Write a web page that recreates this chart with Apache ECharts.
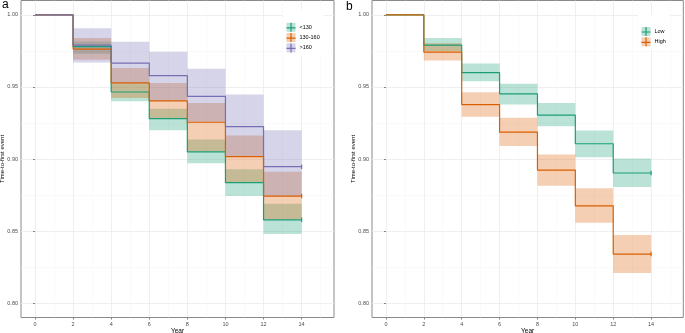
<!DOCTYPE html>
<html>
<head>
<meta charset="utf-8">
<script src="https://cdn.jsdelivr.net/npm/echarts@6/dist/echarts.min.js"></script>
<style>
  html, body { margin: 0; padding: 0; background: #fff; }
  #chart { width: 685px; height: 333px; }
</style>
</head>
<body>
<div id="chart"></div>
<script>
// step times (years)
const years = [0, 2, 4, 6, 8, 10, 12, 14];
const xTicks = [0, 2, 4, 6, 8, 10, 12, 14];
const xMinor = [1, 3, 5, 7, 9, 11, 13, 15];
const yTicks = [0.80, 0.85, 0.90, 0.95, 1.00];
const yMinor = [0.825, 0.875, 0.925, 0.975];

// panel a
const groupsA = ['<130', '130-160', '>160'];
const survLt130 = [1, 0.978, 0.9465, 0.928, 0.905, 0.8836, 0.8578];
const upLt130 = [0.9815, 0.9528, 0.9348, 0.9135, 0.8928, 0.869];
const loLt130 = [0.973, 0.940, 0.920, 0.897, 0.8744, 0.848];
const surv130to160 = [1, 0.9763, 0.9528, 0.9403, 0.9255, 0.9016, 0.8743];
const up130to160 = [0.9839, 0.9631, 0.9528, 0.9389, 0.9163, 0.8912];
const lo130to160 = [0.9689, 0.9424, 0.928, 0.9052, 0.8836, 0.8578];
const survGt160 = [1, 0.979, 0.9666, 0.9578, 0.9435, 0.9225, 0.8947];
const upGt160 = [0.9908, 0.9813, 0.9744, 0.9627, 0.9447, 0.920];
const loGt160 = [0.967, 0.9528, 0.9405, 0.9258, 0.9016, 0.8743];

// panel b
const groupsB = ['Low', 'High'];
const survLow = [1, 0.979, 0.9599, 0.9452, 0.9304, 0.9106, 0.8903];
const upLow = [0.984, 0.9662, 0.9523, 0.9389, 0.9198, 0.9003];
const loLow = [0.975, 0.954, 0.9378, 0.9228, 0.9013, 0.8806];
const survHigh = [1, 0.9742, 0.9378, 0.9186, 0.8923, 0.8675, 0.834];
const upHigh = [0.9804, 0.9463, 0.9286, 0.9032, 0.8797, 0.8472];
const loHigh = [0.9684, 0.9293, 0.909, 0.8814, 0.8557, 0.8209];

const GREEN = '#1B9E77', ORANGE = '#D95F02', PURPLE = '#7570B3';
const FONT = 'Liberation Sans';

function alpha(hex, a) {
  const n = parseInt(hex.slice(1), 16);
  return `rgba(${n >> 16},${(n >> 8) & 255},${n & 255},${a})`;
}

function stepData(surv, color) {
  return years.map((t, i) => {
    const v = surv[Math.min(i, surv.length - 1)];
    if (i === years.length - 1) {
      return { value: [t, v], symbol: 'rect', symbolSize: [1.2, 4.5], itemStyle: { color: color } };
    }
    return { value: [t, v], symbol: 'none' };
  });
}

function bandData(up, lo) {
  return up.map((u, i) => [years[i + 1], years[i + 2], lo[i], u]);
}

function bandSeries(name, up, lo, color, idx) {
  return {
    name: name + ' band',
    type: 'custom',
    xAxisIndex: idx * 2,
    yAxisIndex: idx * 2,
    data: bandData(up, lo),
    encode: { x: [0, 1], y: [2, 3] },
    silent: true,
    z: 1,
    renderItem(params, api) {
      const p0 = api.coord([api.value(0), api.value(3)]);
      const p1 = api.coord([api.value(1), api.value(2)]);
      return {
        type: 'rect',
        shape: { x: p0[0], y: p0[1], width: p1[0] - p0[0], height: p1[1] - p0[1] },
        style: { fill: alpha(color, 0.3) }
      };
    }
  };
}

function lineSeries(name, surv, color, idx) {
  return {
    name: name,
    type: 'line',
    step: 'end',
    xAxisIndex: idx * 2,
    yAxisIndex: idx * 2,
    data: stepData(surv, color),
    showSymbol: true,
    lineStyle: { color: color, width: 1.2 },
    itemStyle: { color: color },
    z: 3,
    animation: false
  };
}

function xAxes(gridIndex) {
  return [{
    type: 'value', gridIndex: gridIndex, min: -0.735, max: 15.7,
    name: 'Year', nameLocation: 'middle', nameGap: 10, nameMoveOverlap: false,
    nameTextStyle: { fontFamily: FONT, fontSize: 6.5, color: '#000' },
    axisLine: { show: false },
    axisTick: { show: true, length: 2, customValues: xTicks, lineStyle: { color: '#333', width: 0.6 } },
    axisLabel: { customValues: xTicks, fontFamily: FONT, fontSize: 5.5, color: '#4d4d4d', margin: 3.5 },
    splitLine: { show: true, lineStyle: { color: '#ebebeb', width: 0.8 } }
  }, {
    type: 'value', gridIndex: gridIndex, min: -0.735, max: 15.7,
    axisLine: { show: false },
    axisTick: { show: false, customValues: xMinor },
    axisLabel: { show: false, customValues: xMinor },
    splitLine: { show: true, lineStyle: { color: '#f4f4f4', width: 0.5 } }
  }];
}

function yAxes(gridIndex) {
  return [{
    type: 'value', gridIndex: gridIndex, min: 0.79, max: 1.01,
    name: 'Time-to-first event', nameLocation: 'middle', nameGap: 15.5, nameMoveOverlap: false,
    nameTextStyle: { fontFamily: FONT, fontSize: 6, color: '#000' },
    axisLine: { show: false },
    axisTick: { show: true, length: 2, customValues: yTicks, lineStyle: { color: '#333', width: 0.6 } },
    axisLabel: { customValues: yTicks, fontFamily: FONT, fontSize: 5.5, color: '#4d4d4d', margin: 3,
      formatter: v => v.toFixed(2) },
    splitLine: { show: true, lineStyle: { color: '#ebebeb', width: 0.8 } }
  }, {
    type: 'value', gridIndex: gridIndex, min: 0.79, max: 1.01,
    axisLine: { show: false },
    axisTick: { show: false, customValues: yMinor },
    axisLabel: { show: false, customValues: yMinor },
    splitLine: { show: true, lineStyle: { color: '#f4f4f4', width: 0.5 } }
  }];
}

function legends(names, colors, left, top, boxLeft, boxTop, boxRight) {
  const common = {
    orient: 'vertical', itemWidth: 9, itemHeight: 9, itemGap: 1.3, itemSymbolKeepAspect: false,
    selectedMode: false,
    textStyle: { fontFamily: FONT, fontSize: 5.5, padding: [0, 0, 0, -1] }
  };
  return [
    Object.assign({}, common, {
      left: boxLeft, top: boxTop, backgroundColor: '#fff',
      padding: [top - boxTop, boxRight, 4, left - boxLeft],
      data: names.map((n, i) => ({ name: n, icon: 'rect', itemStyle: { color: alpha(colors[i], 0.3), borderWidth: 0 } })),
      textStyle: Object.assign({}, common.textStyle, { color: 'rgba(0,0,0,0)' }),
      z: 5
    }),
    Object.assign({}, common, {
      left: left, top: top, padding: 0,
      data: names.map((n, i) => ({
        name: n,
        icon: 'path://M0,4.4L9,4.4L9,5.6L0,5.6Z M3.9,0L5.1,0L5.1,9L3.9,9Z',
        itemStyle: { color: colors[i], borderWidth: 0 }
      })),
      textStyle: Object.assign({}, common.textStyle, { color: '#000' }),
      z: 6
    })
  ];
}

const gridBase = { show: true, borderColor: '#8a8a8a', borderWidth: 1, backgroundColor: 'transparent',
  outerBoundsMode: 'none', containLabel: false };

const chart = echarts.init(document.getElementById('chart'), null, { renderer: 'canvas' });
chart.setOption({
  animation: false,
  backgroundColor: '#fff',
  grid: [
    Object.assign({ left: 21, top: 0.5, width: 313, height: 317 }, gridBase),
    Object.assign({ left: 372, top: 0.5, width: 311.3, height: 317 }, gridBase)
  ],
  xAxis: [].concat(xAxes(0), xAxes(1)),
  yAxis: [].concat(yAxes(0), yAxes(1)),
  legend: [].concat(
    legends(groupsA, [GREEN, ORANGE, PURPLE], 286.5, 22.8, 283, 9.5, 4),
    legends(groupsB, [GREEN, ORANGE], 641.5, 27, 638, 15, 4)
  ),
  graphic: [
    { type: 'text', left: 2, top: -1, style: { text: 'a', font: '12px "Liberation Sans"', fill: '#000' } },
    { type: 'text', left: 346, top: 1, style: { text: 'b', font: '12px "Liberation Sans"', fill: '#000' } }
  ],
  series: [
    bandSeries('<130', upLt130, loLt130, GREEN, 0),
    bandSeries('130-160', up130to160, lo130to160, ORANGE, 0),
    bandSeries('>160', upGt160, loGt160, PURPLE, 0),
    lineSeries('<130', survLt130, GREEN, 0),
    lineSeries('130-160', surv130to160, ORANGE, 0),
    lineSeries('>160', survGt160, PURPLE, 0),
    bandSeries('Low', upLow, loLow, GREEN, 1),
    bandSeries('High', upHigh, loHigh, ORANGE, 1),
    lineSeries('Low', survLow, GREEN, 1),
    lineSeries('High', survHigh, ORANGE, 1)
  ]
});
</script>
</body>
</html>
